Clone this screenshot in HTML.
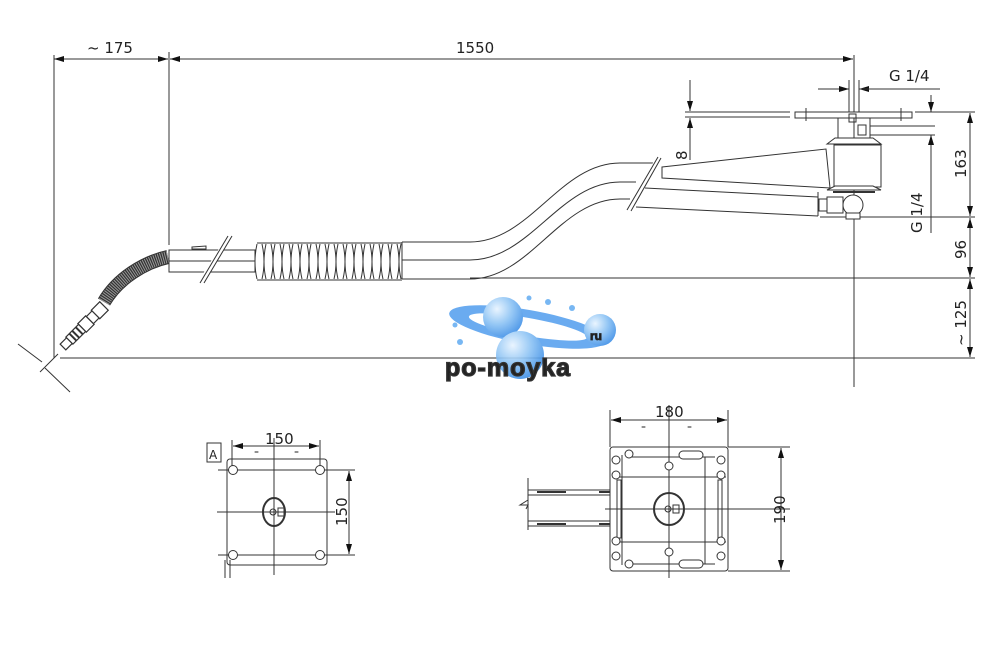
<!DOCTYPE html>
<html><head><meta charset="utf-8"><style>
html,body{margin:0;padding:0;background:#fff;}
svg{display:block;}
text{font-family:"DejaVu Sans","Liberation Sans",sans-serif;fill:#222;}
</style></head><body>
<svg width="1000" height="648" viewBox="0 0 1000 648" xmlns="http://www.w3.org/2000/svg">
<defs>
<marker id="a" viewBox="0 0 10 6" refX="10" refY="3" markerWidth="10" markerHeight="6" orient="auto-start-reverse" markerUnits="userSpaceOnUse"><path d="M0,0 L10,3 L0,6 z" fill="#111"/></marker>
<radialGradient id="bb" cx="0.35" cy="0.3" r="0.75"><stop offset="0" stop-color="#e8f4ff"/><stop offset="0.5" stop-color="#8ec4f5"/><stop offset="1" stop-color="#3d8ee6"/></radialGradient>
</defs>
<g stroke="#333" stroke-width="1" fill="none">
<!-- top dims -->
<line x1="54" y1="55" x2="54" y2="358"/>
<line x1="169" y1="52" x2="169" y2="245"/>
<line x1="854" y1="55" x2="854" y2="387"/>
<line x1="54" y1="59" x2="168" y2="59" marker-start="url(#a)" marker-end="url(#a)"/>
<line x1="170" y1="59" x2="853" y2="59" marker-start="url(#a)" marker-end="url(#a)"/>
<!-- horizontals -->
<line x1="60" y1="358" x2="975" y2="358"/>
<line x1="470" y1="278" x2="975" y2="278"/>
<line x1="820" y1="217" x2="975" y2="217"/>
<line x1="685" y1="112" x2="790" y2="112"/>
<line x1="915" y1="112" x2="975" y2="112"/>
<line x1="685" y1="117" x2="790" y2="117"/>
<!-- right dims -->
<line x1="970" y1="113" x2="970" y2="216" marker-start="url(#a)" marker-end="url(#a)"/>
<line x1="970" y1="218" x2="970" y2="277" marker-start="url(#a)" marker-end="url(#a)"/>
<line x1="970" y1="279" x2="970" y2="357" marker-start="url(#a)" marker-end="url(#a)"/>
<line x1="931" y1="95" x2="931" y2="112" marker-end="url(#a)"/>
<line x1="931" y1="150" x2="931" y2="135" marker-end="url(#a)"/>
<line x1="931" y1="150" x2="931" y2="233"/>
<line x1="870" y1="126" x2="935" y2="126"/>
<line x1="870" y1="135" x2="935" y2="135"/>
<line x1="818" y1="89" x2="849" y2="89" marker-end="url(#a)"/>
<line x1="885" y1="89" x2="859" y2="89" marker-end="url(#a)"/>
<line x1="859" y1="89" x2="940" y2="89"/>
<line x1="849" y1="80" x2="849" y2="112"/><line x1="859" y1="80" x2="859" y2="112"/>
<line x1="690" y1="80" x2="690" y2="111" marker-end="url(#a)"/>
<line x1="690" y1="160" x2="690" y2="118" marker-end="url(#a)"/>
<!-- hose & tube -->
<path d="M168,257 C145,262 118,278 104,302" stroke="#333" stroke-width="14"/>
<path d="M168,257 C145,262 118,278 104,302" stroke="#999" stroke-width="12" stroke-dasharray="1 1.2"/>
<g transform="translate(104,306) rotate(135)" stroke-width="1.2">
<rect x="0" y="-6" width="12" height="12" fill="#fff"/>
<rect x="12" y="-5" width="8" height="10" fill="#fff"/>
<rect x="20" y="-6" width="11" height="12" fill="#fff"/>
<rect x="31" y="-5" width="18" height="10" fill="#fff"/>
<line x1="35" y1="-5" x2="35" y2="5" stroke-width="2"/><line x1="40" y1="-5" x2="40" y2="5" stroke-width="2"/><line x1="44" y1="-5" x2="44" y2="5" stroke-width="2"/>
<rect x="49" y="-4" width="9" height="8" fill="#fff"/>
</g>
<line x1="18" y1="344" x2="42" y2="362"/><line x1="45" y1="368" x2="70" y2="392"/>
<line x1="40" y1="372" x2="58" y2="354"/>
<rect x="169" y="250" width="86" height="22" fill="#fff"/>
<line x1="169" y1="261" x2="255" y2="261"/>
<path d="M192,247 l14,-1 l0,3 l-14,0z"/>
<line x1="200" y1="283" x2="230" y2="236" stroke="#fff" stroke-width="5"/>
<line x1="200" y1="283" x2="228" y2="236"/><line x1="204" y1="283" x2="232" y2="236"/>
<path d="M257,243 h145 M257,280 h145"/>
<path d="M257,244 q-4,18 0,35 M266,244 q-4,18 0,35 M275,244 q-4,18 0,35 M284,244 q-4,18 0,35 M293,244 q-4,18 0,35 M302,244 q-4,18 0,35 M311,244 q-4,18 0,35 M320,244 q-4,18 0,35 M329,244 q-4,18 0,35 M338,244 q-4,18 0,35 M347,244 q-4,18 0,35 M356,244 q-4,18 0,35 M365,244 q-4,18 0,35 M374,244 q-4,18 0,35 M383,244 q-4,18 0,35 M392,244 q-4,18 0,35 M401,244 q-4,18 0,35"/>
<path d="M262,244 q4,18 0,35 M271,244 q4,18 0,35 M280,244 q4,18 0,35 M289,244 q4,18 0,35 M298,244 q4,18 0,35 M307,244 q4,18 0,35 M316,244 q4,18 0,35 M325,244 q4,18 0,35 M334,244 q4,18 0,35 M343,244 q4,18 0,35 M352,244 q4,18 0,35 M361,244 q4,18 0,35 M370,244 q4,18 0,35 M379,244 q4,18 0,35 M388,244 q4,18 0,35 M397,244 q4,18 0,35"/>
<path d="M402,242 V279"/>
<path d="M402,242 H470 C530,242 560,163 620,163 H657"/>
<path d="M402,260 H470 C530,260 560,182 620,182 H636"/>
<path d="M402,279 H470 C530,279 560,199 620,199 H630"/>
<line x1="627" y1="210" x2="660" y2="156" stroke="#fff" stroke-width="5"/>
<line x1="627" y1="210" x2="658" y2="157"/><line x1="631" y1="211" x2="661" y2="158"/>
<!-- arm -->
<path d="M662,167 L826,149 L830,188 L662,178 Z" fill="#fff"/>
<path d="M645,188 L818,197 M636,207 L818,216 M818,192 V216"/>
<!-- head -->
<rect x="795" y="112" width="117" height="6" fill="#fff"/>
<line x1="806" y1="108" x2="806" y2="121"/><line x1="901" y1="108" x2="901" y2="121"/>
<path d="M838,118 V140 M870,118 V140"/>
<rect x="849" y="114" width="7" height="8"/><rect x="858" y="125" width="8" height="10"/>
<path d="M827,144 L835,138 H873 L881,144 Z" fill="#fff"/>
<rect x="834" y="145" width="47" height="42" fill="#fff"/>
<path d="M827,190 L835,186 H873 L881,190 Z" fill="#fff"/>
<path d="M833,192 h42" stroke-width="2"/>
<circle cx="853" cy="205" r="10" fill="#fff"/>
<rect x="846" y="213" width="14" height="6" fill="#fff"/>
<rect x="819" y="199" width="8" height="12" fill="#fff"/><rect x="827" y="197" width="16" height="16" fill="#fff"/>
<!-- bottom left view -->
<rect x="207" y="443" width="14" height="19"/>
<rect x="227" y="459" width="100" height="106" rx="3"/>
<line x1="274" y1="438" x2="274" y2="575"/><line x1="217" y1="512" x2="335" y2="512"/>
<line x1="218" y1="470" x2="355" y2="470"/><line x1="218" y1="555" x2="355" y2="555"/>
<line x1="232" y1="440" x2="232" y2="470"/><line x1="320" y1="440" x2="320" y2="470"/>
<line x1="233" y1="446" x2="319" y2="446" marker-start="url(#a)" marker-end="url(#a)"/>
<line x1="349" y1="471" x2="349" y2="554" marker-start="url(#a)" marker-end="url(#a)"/>
<line x1="225" y1="560" x2="225" y2="578"/><line x1="230" y1="560" x2="230" y2="578"/>
<circle cx="233" cy="470" r="4.5" fill="#fff"/><circle cx="320" cy="470" r="4.5" fill="#fff"/>
<circle cx="233" cy="555" r="4.5" fill="#fff"/><circle cx="320" cy="555" r="4.5" fill="#fff"/>
<ellipse cx="274" cy="512" rx="11" ry="14" stroke-width="2"/>
<circle cx="273" cy="512" r="3"/><rect x="278" y="508" width="6" height="8"/>
<!-- bottom right view -->
<rect x="610" y="447" width="118" height="124" rx="3"/>
<line x1="669" y1="405" x2="669" y2="578"/><line x1="605" y1="509" x2="790" y2="509"/>
<line x1="610" y1="410" x2="610" y2="447"/><line x1="728" y1="410" x2="728" y2="447"/>
<line x1="611" y1="420" x2="727" y2="420" marker-start="url(#a)" marker-end="url(#a)"/>
<line x1="728" y1="447" x2="790" y2="447"/><line x1="728" y1="571" x2="790" y2="571"/>
<line x1="781" y1="448" x2="781" y2="570" marker-start="url(#a)" marker-end="url(#a)"/>
<line x1="622" y1="455" x2="622" y2="565"/><line x1="612" y1="477" x2="726" y2="477"/><line x1="612" y1="542" x2="726" y2="542"/>
<line x1="631" y1="457" x2="715" y2="457"/><line x1="631" y1="564" x2="715" y2="564"/><line x1="705" y1="457" x2="705" y2="564"/>
<rect x="617" y="480" width="4" height="58"/><rect x="718" y="480" width="4" height="58"/>
<rect x="679" y="451" width="24" height="8" rx="4" fill="#fff"/><rect x="679" y="560" width="24" height="8" rx="4" fill="#fff"/>
<g fill="#fff"><circle cx="616" cy="460" r="4"/><circle cx="629" cy="454" r="4"/><circle cx="721" cy="460" r="4"/><circle cx="616" cy="475" r="4"/><circle cx="721" cy="475" r="4"/><circle cx="669" cy="466" r="4"/><circle cx="669" cy="552" r="4"/><circle cx="616" cy="541" r="4"/><circle cx="721" cy="541" r="4"/><circle cx="616" cy="556" r="4"/><circle cx="721" cy="556" r="4"/><circle cx="629" cy="564" r="4"/></g>
<ellipse cx="669" cy="509" rx="15" ry="16" stroke-width="2"/>
<circle cx="668" cy="509" r="3"/><rect x="673" y="505" width="6" height="8"/>
<path d="M528,478 V530 M528,500 l-8,5 h8 l-2,4 M528,490 H610 M528,495 H610 M528,521 H610 M528,526 H610"/>
<path d="M537,492 H566 M599,492 H610 M537,524 H566 M599,524 H610" stroke-width="2"/>
</g>
<!-- labels -->
<g font-size="15">
<text x="87" y="53">~ 175</text>
<text x="456" y="53">1550</text>
<text x="889" y="81">G 1/4</text>
<text transform="translate(687,160) rotate(-90)">8</text>
<text transform="translate(922,233) rotate(-90)">G 1/4</text>
<text transform="translate(966,178) rotate(-90)">163</text>
<text transform="translate(966,259) rotate(-90)">96</text>
<text transform="translate(966,346) rotate(-90)">~ 125</text>
<text x="265" y="444">150</text>
<text transform="translate(347,526) rotate(-90)">150</text>
<text x="655" y="417">180</text>
<text transform="translate(785,524) rotate(-90)">190</text>
<text x="209" y="459" font-size="12">A</text>
</g>
<g font-size="6" fill="#555"><text x="254" y="454">=</text><text x="294" y="454">=</text><text x="641" y="429">=</text><text x="687" y="429">=</text></g>
<!-- logo -->
<g opacity="0.9">
<ellipse cx="528" cy="327" rx="80" ry="17" fill="#5aa3ef" transform="rotate(10 528 327)"/>
<ellipse cx="528" cy="327" rx="60" ry="9" fill="#fff" transform="rotate(10 528 327)"/>
<circle cx="503" cy="317" r="20" fill="url(#bb)"/>
<circle cx="520" cy="355" r="24" fill="url(#bb)"/>
<circle cx="600" cy="330" r="16" fill="url(#bb)"/>
<circle cx="529" cy="298" r="2.5" fill="#6ab0f2"/><circle cx="548" cy="302" r="3" fill="#6ab0f2"/><circle cx="572" cy="308" r="3" fill="#6ab0f2"/><circle cx="455" cy="325" r="2.5" fill="#6ab0f2"/><circle cx="460" cy="342" r="3" fill="#6ab0f2"/>
</g>
<text x="445" y="376" font-size="25" font-weight="bold" letter-spacing="1" fill="#bbb" stroke="#333" stroke-width="1.3" style="font-family:'Liberation Sans',sans-serif">po-moyka</text>
<text x="590" y="340" font-size="12" font-weight="bold" fill="#ccc" stroke="#222" stroke-width="0.8" style="font-family:'Liberation Sans',sans-serif">ru</text>
</svg>
</body></html>
